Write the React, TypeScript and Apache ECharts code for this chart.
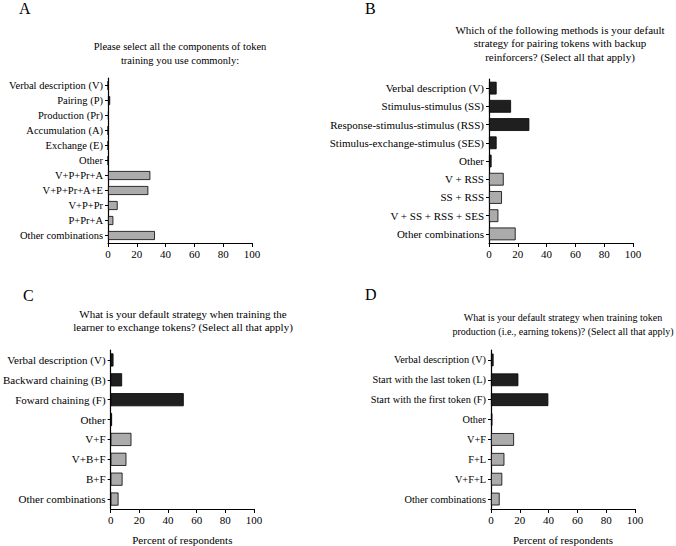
import React, { useEffect, useRef } from "react";
import * as echarts from "echarts";

const aCategories = ["Verbal description (V)", "Pairing (P)", "Production (Pr)", "Accumulation (A)", "Exchange (E)", "Other", "V+P+Pr+A", "V+P+Pr+A+E", "V+P+Pr", "P+Pr+A", "Other combinations"];
const aValues = [0, 1.5, 0.5, 0, 0, 0, 29.4, 28, 6.7, 3.7, 32.6];
const aSingleCount = 6;

const bCategories = ["Verbal description (V)", "Stimulus-stimulus (SS)", "Response-stimulus-stimulus (RSS)", "Stimulus-exchange-stimulus (SES)", "Other", "V + RSS", "SS + RSS", "V + SS + RSS + SES", "Other combinations"];
const bValues = [5.3, 15.3, 28, 5.3, 1.8, 10.2, 9, 6.5, 18.5];
const bSingleCount = 5;

const cCategories = ["Verbal description (V)", "Backward chaining (B)", "Foward chaining (F)", "Other", "V+F", "V+B+F", "B+F", "Other combinations"];
const cValues = [2, 8, 51, 1, 14.5, 11, 8.3, 5.5];
const cSingleCount = 4;

const dCategories = ["Verbal description (V)", "Start with the last token (L)", "Start with the first token (F)", "Other", "V+F", "F+L", "V+F+L", "Other combinations"];
const dValues = [1.8, 19, 39.8, 1, 16, 9.3, 7.8, 6];
const dSingleCount = 4;

const xTicks = [0, 20, 40, 60, 80, 100];

const aTitle = "Please select all the components of token\ntraining you use commonly:";
const bTitle = "Which of the following methods is your default\nstrategy for pairing tokens with backup\nreinforcers? (Select all that apply)";
const cTitle = "What is your default strategy when training the\nlearner to exchange tokens? (Select all that apply)";
const dTitle = "What is your default strategy when training token\nproduction (i.e., earning tokens)? (Select all that apply)";
const xName = "Percent of respondents";

const FONT = "Liberation Serif";
const DARK = "#1f1f1f";
const LIGHT = "#ababab";

export default function App() {
  const ref = useRef<HTMLDivElement>(null);
  useEffect(() => {
    if (!ref.current) return;
    const chart = echarts.init(ref.current, null, { renderer: "svg" });

    const panels = [
      { cats: aCategories, vals: aValues, single: aSingleCount, grid: { left: 108, top: 78, width: 144, height: 165 }, barW: "40%", xName: "", fs: 10.5 },
      { cats: bCategories, vals: bValues, single: bSingleCount, grid: { left: 489, top: 79, width: 144, height: 164 }, barW: "30%", xName: "", fs: 11 },
      { cats: cCategories, vals: cValues, single: cSingleCount, grid: { left: 109, top: 350, width: 145, height: 163 }, barW: "34%", xName: xName, fs: 11 },
      { cats: dCategories, vals: dValues, single: dSingleCount, grid: { left: 491, top: 350, width: 144, height: 163 }, barW: "36%", xName: xName, fs: 10.3 },
    ];

    const grids = panels.map((p) => ({ ...p.grid, containLabel: false }));
    const xAxes = panels.map((p, i) => ({
      type: "value",
      gridIndex: i,
      min: 0,
      max: 100,
      interval: 20,
      name: p.xName,
      nameLocation: "middle",
      nameGap: 25,
      nameTextStyle: { fontFamily: FONT, fontSize: 11, color: "#000" },
      axisLine: { show: true, lineStyle: { color: "#000", width: 1.2 } },
      axisTick: { show: true, length: 4, inside: false, lineStyle: { color: "#000" } },
      axisLabel: { fontFamily: FONT, fontSize: 11, color: "#000", margin: 5 },
      splitLine: { show: false },
    }));
    const yAxes = panels.map((p, i) => ({
      type: "category",
      gridIndex: i,
      data: p.cats,
      inverse: true,
      axisLine: { show: true, lineStyle: { color: "#000", width: 1.2 } },
      axisTick: { show: true, alignWithLabel: true, length: 3, lineStyle: { color: "#000" } },
      axisLabel: { fontFamily: FONT, fontSize: p.fs, color: "#000", margin: 5, interval: 0 },
    }));
    const series = panels.map((p, i) => ({
      type: "bar",
      xAxisIndex: i,
      yAxisIndex: i,
      barCategoryGap: p.barW,
      data: p.vals.map((v, j) => ({
        value: v,
        itemStyle: { color: j < p.single ? DARK : LIGHT, borderColor: "#000", borderWidth: 0.8 },
      })),
    }));

    const mkTitle = (text: string, x: number, y: number, fs: number) => ({
      type: "text",
      x,
      y,
      style: { text, fontFamily: FONT, fontSize: fs, lineHeight: 13.5, fill: "#000", align: "center", verticalAlign: "top" },
    });
    const mkLetter = (text: string, x: number, y: number) => ({
      type: "text",
      x,
      y,
      style: { text, fontFamily: FONT, fontSize: 16, fill: "#000", align: "left", verticalAlign: "middle" },
    });

    chart.setOption({
      animation: false,
      backgroundColor: "#fff",
      grid: grids,
      xAxis: xAxes,
      yAxis: yAxes,
      series,
      graphic: [
        mkLetter("A", 19, 8),
        mkLetter("B", 365, 8),
        mkLetter("C", 23, 295),
        mkLetter("D", 365, 294),
        mkTitle(aTitle, 180, 40, 10.5),
        mkTitle(bTitle, 560, 23, 11),
        mkTitle(cTitle, 183, 307, 11),
        mkTitle(dTitle, 563, 311, 10),
      ],
    });
    return () => chart.dispose();
  }, []);
  return <div ref={ref} style={{ position: "fixed", left: 0, top: 0, width: 676, height: 546 }} />;
}
